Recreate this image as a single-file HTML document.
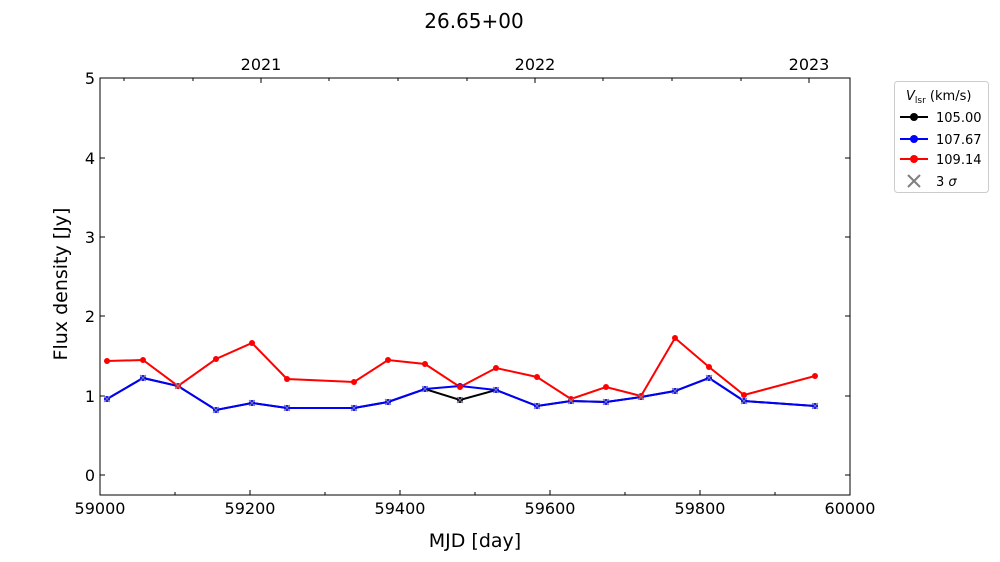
<!DOCTYPE html>
<html><head><meta charset="utf-8"><style>body{margin:0;background:#fff}svg{display:block}text{font-family:"DejaVu Sans","Liberation Sans",sans-serif}</style></head>
<body>
<svg width="1000" height="562" xmlns="http://www.w3.org/2000/svg">
<text x="474" y="28" font-size="20" text-anchor="middle">26.65+00</text>
<rect x="100" y="78" width="750" height="417" fill="none" stroke="#000" stroke-width="1"/>
<g stroke="#000" stroke-width="1">
<line x1="100" y1="495" x2="100" y2="490"/><line x1="250" y1="495" x2="250" y2="490"/><line x1="400" y1="495" x2="400" y2="490"/><line x1="550" y1="495" x2="550" y2="490"/><line x1="700" y1="495" x2="700" y2="490"/>
<line x1="175" y1="495" x2="175" y2="492"/><line x1="325" y1="495" x2="325" y2="492"/><line x1="475" y1="495" x2="475" y2="492"/><line x1="625" y1="495" x2="625" y2="492"/><line x1="775" y1="495" x2="775" y2="492"/>
<line x1="100" y1="475" x2="105" y2="475"/><line x1="100" y1="396" x2="105" y2="396"/><line x1="100" y1="316" x2="105" y2="316"/><line x1="100" y1="237" x2="105" y2="237"/><line x1="100" y1="158" x2="105" y2="158"/>
<line x1="850" y1="475" x2="845" y2="475"/><line x1="850" y1="396" x2="845" y2="396"/><line x1="850" y1="316" x2="845" y2="316"/><line x1="850" y1="237" x2="845" y2="237"/><line x1="850" y1="158" x2="845" y2="158"/>
<line x1="261" y1="78" x2="261" y2="83"/><line x1="535" y1="78" x2="535" y2="83"/><line x1="809" y1="78" x2="809" y2="83"/>
<line x1="124" y1="78" x2="124" y2="81"/><line x1="193" y1="78" x2="193" y2="81"/><line x1="329" y1="78" x2="329" y2="81"/><line x1="398" y1="78" x2="398" y2="81"/><line x1="467" y1="78" x2="467" y2="81"/><line x1="603" y1="78" x2="603" y2="81"/><line x1="672" y1="78" x2="672" y2="81"/><line x1="741" y1="78" x2="741" y2="81"/>
</g>
<g font-size="16" text-anchor="middle">
<text x="100" y="514">59000</text><text x="250" y="514">59200</text><text x="400" y="514">59400</text><text x="550" y="514">59600</text><text x="700" y="514">59800</text><text x="850" y="514">60000</text>
<text x="261" y="70">2021</text><text x="535" y="70">2022</text><text x="809" y="70">2023</text>
</g>
<g font-size="16" text-anchor="end">
<text x="95" y="481">0</text><text x="95" y="402">1</text><text x="95" y="322">2</text><text x="95" y="243">3</text><text x="95" y="164">4</text><text x="95" y="84">5</text>
</g>
<text x="475" y="547" font-size="19" text-anchor="middle">MJD [day]</text>
<text transform="translate(67,284) rotate(-90)" font-size="19" text-anchor="middle">Flux density [Jy]</text>
<polyline fill="none" stroke="#000" stroke-width="2" points="107,399 143,378 178,386 216,410 252,403 287,408 354,408 388,402 425,389 460,400 496,390 537,406 571,401 606,402 641,397 675,391 709,378 744,401 815,406"/>
<polyline fill="none" stroke="#00f" stroke-width="2" points="107,399 143,378 178,386 216,410 252,403 287,408 354,408 388,402 425,389 460,386 496,390 537,406 571,401 606,402 641,397 675,391 709,378 744,401 815,406"/>
<polyline fill="none" stroke="#f00" stroke-width="2" points="107,361 143,360 178,386 216,359 252,343 287,379 354,382 388,360 425,364 460,387 496,368 537,377 571,399 606,387 641,396 675,338 709,367 744,395 815,376"/>
<g fill="#000"><circle cx="460" cy="400" r="3"/></g>
<g fill="#00f">
<circle cx="107" cy="399" r="3"/><circle cx="143" cy="378" r="3"/><circle cx="178" cy="386" r="3"/><circle cx="216" cy="410" r="3"/><circle cx="252" cy="403" r="3"/><circle cx="287" cy="408" r="3"/><circle cx="354" cy="408" r="3"/><circle cx="388" cy="402" r="3"/><circle cx="425" cy="389" r="3"/><circle cx="460" cy="386" r="3"/><circle cx="496" cy="390" r="3"/><circle cx="537" cy="406" r="3"/><circle cx="571" cy="401" r="3"/><circle cx="606" cy="402" r="3"/><circle cx="641" cy="397" r="3"/><circle cx="675" cy="391" r="3"/><circle cx="709" cy="378" r="3"/><circle cx="744" cy="401" r="3"/><circle cx="815" cy="406" r="3"/>
</g>
<g fill="#f00">
<circle cx="107" cy="361" r="3"/><circle cx="143" cy="360" r="3"/><circle cx="178" cy="386" r="3"/><circle cx="216" cy="359" r="3"/><circle cx="252" cy="343" r="3"/><circle cx="287" cy="379" r="3"/><circle cx="354" cy="382" r="3"/><circle cx="388" cy="360" r="3"/><circle cx="425" cy="364" r="3"/><circle cx="460" cy="387" r="3"/><circle cx="496" cy="368" r="3"/><circle cx="537" cy="377" r="3"/><circle cx="571" cy="399" r="3"/><circle cx="606" cy="387" r="3"/><circle cx="641" cy="396" r="3"/><circle cx="675" cy="338" r="3"/><circle cx="709" cy="367" r="3"/><circle cx="744" cy="395" r="3"/><circle cx="815" cy="376" r="3"/>
</g>
<g stroke="#8080a0" stroke-width="1">
<path d="M104,396l6,6M110,396l-6,6M140,375l6,6M146,375l-6,6M175,383l6,6M181,383l-6,6M213,407l6,6M219,407l-6,6M249,400l6,6M255,400l-6,6M284,405l6,6M290,405l-6,6M351,405l6,6M357,405l-6,6M385,399l6,6M391,399l-6,6M422,386l6,6M428,386l-6,6M457,397l6,6M463,397l-6,6M493,387l6,6M499,387l-6,6M534,403l6,6M540,403l-6,6M568,398l6,6M574,398l-6,6M603,399l6,6M609,399l-6,6M638,394l6,6M644,394l-6,6M672,388l6,6M678,388l-6,6M706,375l6,6M712,375l-6,6M741,398l6,6M747,398l-6,6M812,403l6,6M818,403l-6,6"/>
</g>
<rect x="894.5" y="81.5" width="94" height="111" rx="3" fill="#fff" stroke="#ccc"/>
<text x="906" y="100" font-size="13"><tspan font-style="italic">V</tspan><tspan font-size="9" dy="3">lsr</tspan><tspan dy="-3"> (km/s)</tspan></text>
<g stroke-width="2"><line x1="900" y1="117" x2="928" y2="117" stroke="#000"/><line x1="900" y1="139" x2="928" y2="139" stroke="#00f"/><line x1="900" y1="159" x2="928" y2="159" stroke="#f00"/></g>
<circle cx="914" cy="117" r="4" fill="#000"/><circle cx="914" cy="139" r="4" fill="#00f"/><circle cx="914" cy="159" r="4" fill="#f00"/>
<g stroke="#808080" stroke-width="2"><line x1="908" y1="175" x2="920" y2="187"/><line x1="920" y1="175" x2="908" y2="187"/></g>
<g font-size="13"><text x="936" y="122">105.00</text><text x="936" y="144">107.67</text><text x="936" y="164">109.14</text><text x="936" y="186">3 <tspan font-style="italic">σ</tspan></text></g>
</svg>
</body></html>
